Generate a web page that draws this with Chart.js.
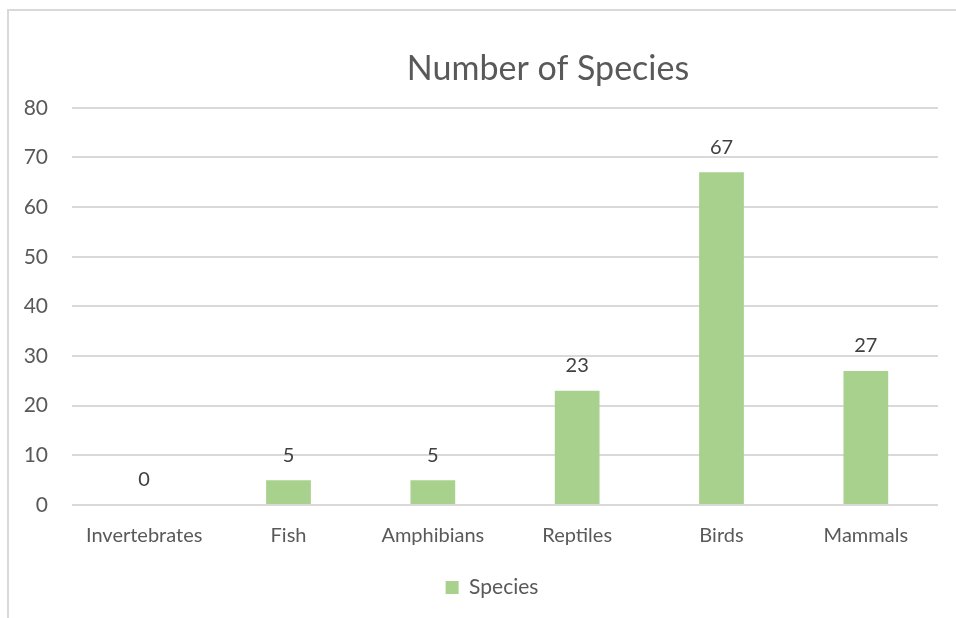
<!DOCTYPE html>
<html>
<head>
<meta charset="utf-8">
<script src="https://cdn.jsdelivr.net/npm/chart.js@4"></script>
<style>
    html, body { margin: 0; padding: 0; background: #fff; overflow: hidden; }
    #wrap { position: relative; width: 956px; height: 618px; }
    #frame { position: absolute; left: 7px; top: 9px; width: 1000px; height: 700px; border: 2px solid #D9D9D9; box-sizing: border-box; }
    #speciesChart { position: absolute; left: 0; top: 0; }
</style>
</head>
<body>
<div id="wrap">
    <div id="frame"></div>
    <canvas id="speciesChart" width="956" height="618"></canvas>
</div>
<script>
const categories = ['Invertebrates', 'Fish', 'Amphibians', 'Reptiles', 'Birds', 'Mammals'];
const speciesCounts = [0, 5, 5, 23, 67, 27];
const seriesName = 'Species';
const yTicks = [0, 10, 20, 30, 40, 50, 60, 70, 80];

const FONT = "Lato, 'Open Sans', sans-serif";
const TEXT = '#595959';

// value labels above each bar
const barLabels = {
    id: 'barLabels',
    afterDatasetsDraw(chart) {
        const ctx = chart.ctx;
        const meta = chart.getDatasetMeta(0);
        ctx.save();
        ctx.font = '20px ' + FONT;
        ctx.fillStyle = '#404040';
        ctx.textAlign = 'center';
        ctx.textBaseline = 'middle';
        meta.data.forEach(function (bar, i) {
            ctx.fillText(String(speciesCounts[i]), bar.x, bar.y - 25);
        });
        ctx.restore();
    }
};

// title and legend in the original sit right of centre
const boxShift = {
    id: 'boxShift',
    afterLayout(chart) {
        if (chart.titleBlock) chart.titleBlock.left += 86;
        if (chart.legend) chart.legend.left += 46;
    }
};

const ctx = document.getElementById('speciesChart').getContext('2d');
new Chart(ctx, {
    type: 'bar',
    data: {
        labels: categories,
        datasets: [{
            label: seriesName,
            data: speciesCounts,
            backgroundColor: '#A9D18E',
            borderWidth: 0,
            categoryPercentage: 0.62,
            barPercentage: 0.5
        }]
    },
    options: {
        responsive: false,
        animation: false,
        devicePixelRatio: 1,
        layout: { padding: { left: 0, right: 18, top: 0, bottom: 10 } },
        plugins: {
            title: {
                display: true,
                fullSize: false,
                text: 'Number of Species',
                color: TEXT,
                font: { family: FONT, size: 34, weight: 'normal' },
                padding: { top: 49, bottom: 18 }
            },
            legend: {
                position: 'bottom',
                labels: {
                    color: TEXT,
                    font: { family: FONT, size: 21 },
                    boxWidth: 13,
                    boxHeight: 13,
                    padding: 10
                }
            },
            tooltip: { enabled: false }
        },
        scales: {
            x: {
                grid: { display: false },
                border: { display: false },
                ticks: { color: TEXT, font: { family: FONT, size: 20 }, padding: 11, maxRotation: 0 },
                afterFit(scale) { scale.height = 62; }
            },
            y: {
                min: 0,
                max: 80,
                afterBuildTicks(scale) { scale.ticks = yTicks.map(v => ({ value: v })); },
                grid: { color: '#D9D9D9', lineWidth: 2, drawTicks: false },
                border: { display: false },
                ticks: { color: TEXT, font: { family: FONT, size: 21 }, padding: 24 },
                afterFit(scale) { scale.width = 72; }
            }
        }
    },
    plugins: [barLabels, boxShift]
});
</script>
</body>
</html>
